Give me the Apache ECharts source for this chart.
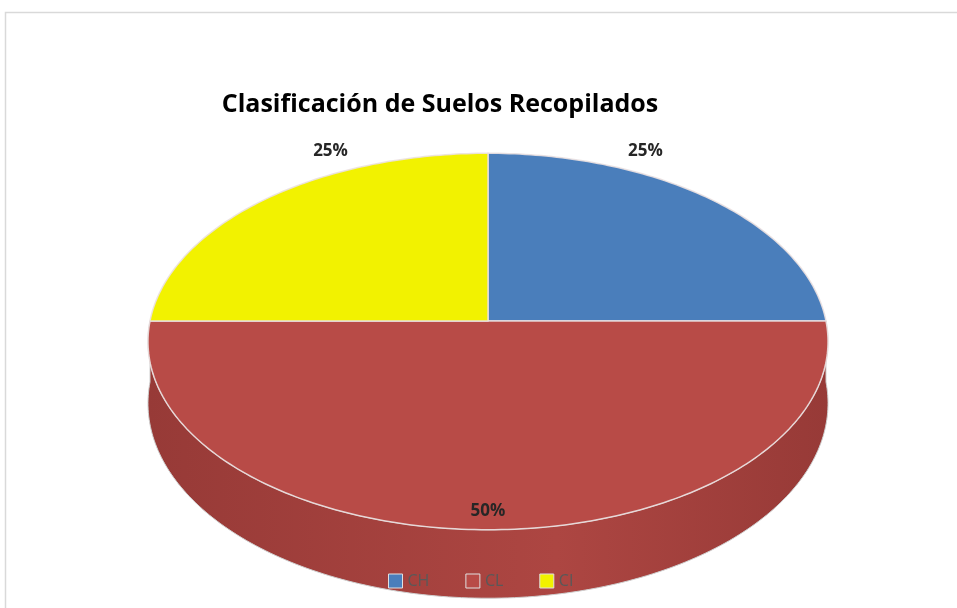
<!DOCTYPE html>
<html>
<head>
<meta charset="utf-8">
<script src="https://cdn.jsdelivr.net/npm/echarts@6/dist/echarts.min.js"></script>
<style>
  html, body { margin: 0; padding: 0; background: #fff; }
  #chart { width: 957px; height: 608px; }
</style>
</head>
<body>
<div id="chart"></div>
<script>
// data
const categories = ['CH', 'CL', 'CI'];
const values = [25, 50, 25];

const topColors = ['#4a7ebb', '#b84b47', '#f2f200'];
const sideColors = [
  ['#3a6699', '#4a7ebb'],
  ['#973a37', '#ad4642'],
  ['#c8c800', '#e6e600']
];

// projection of the tilted disc
const CX = 488, CY = 321, RX = 338, RY = 186, K = 0.109, DEPTH = 61;

function proj(deg, s, drop) {
  const t = deg * Math.PI / 180;
  const u = s * Math.sin(t), v = s * Math.cos(t);
  const w = 1 + K * v;
  return [CX + RX * u / w, CY - RY * v / w + (drop || 0) / w];
}

function arc(a0, a1, drop) {
  const pts = [];
  const n = Math.max(2, Math.ceil(Math.abs(a1 - a0)));
  for (let j = 0; j <= n; j++) pts.push(proj(a0 + (a1 - a0) * j / n, 1, drop));
  return pts;
}

const total = values.reduce((a, b) => a + b, 0);
const starts = [];
let acc = 0;
values.forEach(v => { starts.push(acc / total * 360); acc += v; });

function makeRender(i) {
  return function (params, api) {
    const a0 = starts[i];
    const a1 = a0 + api.value(0) / total * 360;
    const children = [];

    // front wall
    const f0 = Math.max(a0, 90), f1 = Math.min(a1, 270);
    if (f1 > f0) {
      const pts = arc(f0, f1, 0).concat(arc(f1, f0, DEPTH));
      children.push({
        type: 'polygon',
        shape: { points: pts },
        style: {
          fill: new echarts.graphic.LinearGradient(1, 0, 0, 0, [
            { offset: 0, color: sideColors[i][0] },
            { offset: 0.4, color: sideColors[i][1] },
            { offset: 1, color: sideColors[i][0] }
          ]),
          stroke: '#cfcfcf',
          lineWidth: 1
        }
      });
    }

    // top face
    const top = [proj(0, 0)].concat(arc(a0, a1, 0));
    children.push({
      type: 'polygon',
      shape: { points: top },
      style: { fill: topColors[i], stroke: 'rgba(235,225,225,0.9)', lineWidth: 1.5 }
    });

    // label
    const mid = (a0 + a1) / 2;
    let la = mid, s = 0.92;
    if (Math.cos(mid * Math.PI / 180) > 0) {
      la = mid <= 180 ? mid * 0.6 : 360 - (360 - mid) * 0.6;
      s = 1.14;
    }
    const p = proj(la, s);
    children.push({
      type: 'text',
      style: {
        text: Math.round(api.value(0) / total * 100) + '%',
        x: p[0], y: p[1],
        align: 'center', verticalAlign: 'middle',
        font: 'bold 17px "Open Sans"',
        fill: '#262626'
      }
    });

    return { type: 'group', children: children };
  };
}

const chart = echarts.init(document.getElementById('chart'));
chart.setOption({
  animation: false,
  title: {
    text: 'Clasificación de Suelos Recopilados',
    left: 435,
    top: 87,
    textAlign: 'center',
    textStyle: { fontFamily: 'Open Sans', fontWeight: 'bold', fontSize: 25, color: '#000' }
  },
  legend: {
    data: categories,
    left: 383,
    top: 568,
    icon: 'rect',
    itemWidth: 14,
    itemHeight: 14,
    itemGap: 36,
    itemStyle: { borderColor: '#e0e0e0', borderWidth: 1 },
    textStyle: { fontFamily: 'Open Sans', fontSize: 16, color: '#595959' }
  },
  graphic: [{
    type: 'rect',
    left: 3,
    top: 10,
    silent: true,
    z: -10,
    shape: { width: 1000, height: 1000 },
    style: { fill: 'none', stroke: '#d9d9d9', lineWidth: 1.5 }
  }],
  series: categories.map((name, i) => ({
    type: 'custom',
    name: name,
    coordinateSystem: 'none',
    itemStyle: { color: topColors[i] },
    renderItem: makeRender(i),
    data: [values[i]]
  }))
});
</script>
</body>
</html>
